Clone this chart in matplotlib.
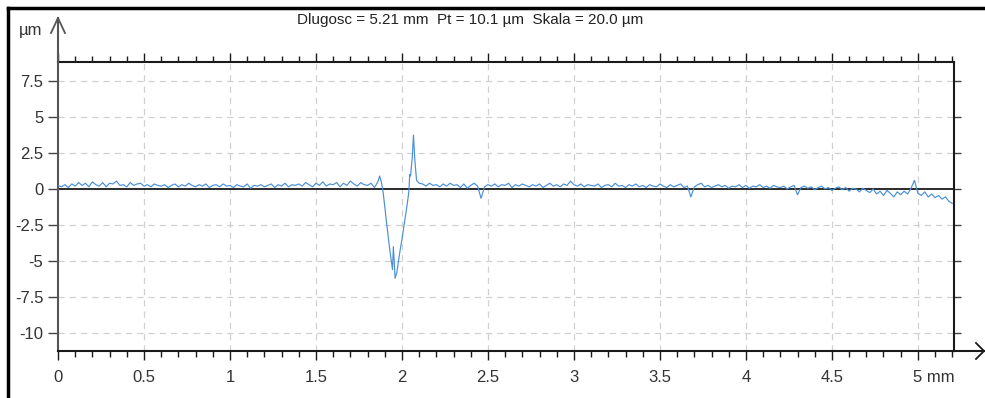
import numpy as np
import matplotlib
matplotlib.use("Agg")
import matplotlib.pyplot as plt
from matplotlib.lines import Line2D
from matplotlib.ticker import FixedLocator, MultipleLocator
import matplotlib.transforms as mtransforms

plt.rcParams['font.family'] = ['Liberation Sans Narrow', 'Liberation Sans', 'DejaVu Sans']
plt.rcParams['axes.unicode_minus'] = False

# ---------------- data (profile, micrometres vs mm) ----------------
step = 0.02
segA_start = 0.00
segA_y = [0.25, 0.15, 0.30, 0.10, 0.35, 0.20, 0.45, 0.25, 0.40, 0.15,
          0.50, 0.30, 0.20, 0.45, 0.15, 0.40, 0.35, 0.55, 0.25, 0.30,
          0.15, 0.45, 0.25, 0.35, 0.40, 0.20, 0.30, 0.15, 0.35, 0.25,
          0.20, 0.30, 0.10, 0.25, 0.35, 0.15, 0.30, 0.20, 0.40, 0.25,
          0.15, 0.30, 0.20, 0.35, 0.10, 0.25, 0.30, 0.15, 0.35, 0.20,
          0.25, 0.10, 0.30, 0.20, 0.15, 0.35, 0.05, 0.25, 0.20, 0.30,
          0.15, 0.25, 0.35, 0.10, 0.30, 0.20, 0.40, 0.15, 0.30, 0.25,
          0.35, 0.20, 0.45, 0.30, 0.15, 0.40, 0.25, 0.50, 0.20, 0.35,
          0.30, 0.45, 0.15, 0.40, 0.25, 0.55, 0.35, 0.20, 0.45, 0.30,
          0.25, 0.40, 0.10, 0.50]

feature_x = [1.87, 1.88, 1.89, 1.90, 1.91, 1.92, 1.93, 1.94, 1.945, 1.95,
             1.955, 1.96, 1.97, 1.98, 1.99, 2.00, 2.01, 2.02, 2.03, 2.04,
             2.045, 2.05, 2.06, 2.067, 2.075, 2.085, 2.10]
feature_y = [0.9, 0.5, -0.2, -1.2, -2.3, -3.3, -4.3, -5.2, -5.6, -4.0,
             -5.0, -6.2, -5.8, -5.0, -4.2, -3.5, -2.7, -1.9, -1.1, -0.2,
             1.0, 0.9, 2.2, 3.75, 2.0, 0.6, 0.4]

segB_start = 2.12
segB_y = [0.35, 0.20, 0.40, 0.25, 0.30, 0.15, 0.35, 0.20, 0.40, 0.25,
          0.30, 0.10, 0.35, 0.05, 0.25, 0.40, 0.20, -0.65, 0.15, 0.30,
          0.20, 0.35, 0.15, 0.30, 0.25, 0.40, 0.10, 0.30, 0.20, 0.35,
          0.25, 0.15, 0.30, 0.20, 0.35, 0.10, 0.25, 0.40, 0.20, 0.30,
          0.15, 0.35, 0.25, 0.55, 0.30, 0.20, 0.35, 0.15, 0.30, 0.25,
          0.20, 0.35, 0.10, 0.25, 0.30, 0.15, 0.40, 0.20, 0.25, 0.10,
          0.30, 0.20, 0.35, 0.15, 0.25, 0.10, 0.30, 0.20, 0.15, 0.35,
          0.20, 0.10, 0.30, 0.15, 0.25, 0.35, 0.10, 0.20, -0.55, 0.15,
          0.30, 0.40, 0.15, 0.25, 0.10, 0.20, 0.30, 0.15, 0.25, 0.05,
          0.20, 0.15, 0.30, 0.10, 0.25, 0.05, 0.20, 0.15, 0.30, 0.10,
          0.20, 0.05, 0.25, 0.15, 0.10, 0.20, 0.00, 0.15, 0.25, -0.40,
          0.10, 0.20, 0.05, 0.15, -0.05, 0.10, 0.20, 0.00, 0.10, -0.10,
          0.05, 0.15, -0.05, 0.10, -0.15, 0.05, 0.00, -0.20, 0.05, -0.10,
          -0.25, 0.00, -0.35, -0.15, -0.45, -0.10, -0.30, -0.55, -0.20, -0.40,
          -0.15, -0.35, 0.05, 0.60, -0.30, -0.45, -0.20, -0.55, -0.35, -0.60,
          -0.45, -0.70, -0.55, -0.85, -1.00]

x_major = [0, 0.5, 1, 1.5, 2, 2.5, 3, 3.5, 4, 4.5, 5]
x_labels = ["0", "0.5", "1", "1.5", "2", "2.5", "3", "3.5", "4", "4.5", "5 mm"]
y_major = [7.5, 5, 2.5, 0, -2.5, -5, -7.5, -10]
y_labels = ["7.5", "5", "2.5", "0", "-2.5", "-5", "-7.5", "-10"]
x_range = (0, 5.21)
y_range = (-11.25, 8.82)
title = "Dlugosc = 5.21 mm  Pt = 10.1 \u00b5m  Skala = 20.0 \u00b5m"
y_unit = "\u00b5m"

xA = segA_start + step * np.arange(len(segA_y))
xB = segB_start + step * np.arange(len(segB_y))
x = np.concatenate([xA, feature_x, xB])
y = np.concatenate([segA_y, feature_y, segB_y])

# ---------------- figure ----------------
W, H = 985, 398
fig = plt.figure(figsize=(W / 100, H / 100), dpi=100)
fig.patch.set_facecolor('white')

def fp(px, py):
    return px / W, 1 - py / H

L, R, T, B = 58, 954, 62, 351
ax = fig.add_axes([L / W, 1 - B / H, (R - L) / W, (B - T) / H])
ax.set_xlim(*x_range)
ax.set_ylim(*y_range)

# grid
grid_kw = dict(color='#d0d0d0', lw=0.9, dashes=(5, 4), zorder=0)
for gx in x_major[1:]:
    ax.axvline(gx, **grid_kw)
for gy in y_major:
    if gy != 0:
        ax.axhline(gy, **grid_kw)

ax.axhline(0, color='#1a1a1a', lw=1.3, zorder=2)
ax.plot(x, y, color='#4a8fd8', lw=0.85, zorder=3)

# spines
for s in ['top', 'right', 'bottom']:
    ax.spines[s].set_color('#1a1a1a')
    ax.spines[s].set_linewidth(1.5)
ax.spines['left'].set_color('#555555')
ax.spines['left'].set_linewidth(1.5)

# ticks
ax.xaxis.set_major_locator(FixedLocator(x_major))
ax.xaxis.set_minor_locator(MultipleLocator(0.1))
ax.set_xticklabels(x_labels)
ax.yaxis.set_major_locator(FixedLocator(y_major))
ax.set_yticklabels(y_labels)

ax.tick_params(axis='x', which='major', direction='out', length=6.5, width=1.0,
               color='#1a1a1a', top=True, bottom=True, labelsize=12, pad=7,
               labelcolor='#333333')
ax.tick_params(axis='x', which='minor', direction='out', length=4.5, width=1.0,
               color='#1a1a1a', top=True, bottom=True)
ax.tick_params(axis='y', which='major', direction='out', length=7.5, width=1.0,
               color='#444444', left=True, right=True, labelsize=12, pad=3,
               labelcolor='#333333')
for t in ax.yaxis.get_major_ticks():
    t.tick2line.set_markersize(5)
    t.tick2line.set_color('#1a1a1a')

# "5 mm" label: keep the 5 on its tick
lab = ax.get_xticklabels()[-1]
lab.set_horizontalalignment('left')
lab.set_transform(lab.get_transform() + mtransforms.ScaledTranslation(-5 / 100, 0, fig.dpi_scale_trans))

# outer frame
fig.add_artist(Line2D([fp(8, 0)[0], fp(8, 0)[0]], [fp(8, 8)[1], fp(8, 398)[1]], color='black', lw=2.5))
fig.add_artist(Line2D([fp(8, 8)[0], fp(985, 8)[0]], [fp(8, 8)[1], fp(8, 8)[1]], color='black', lw=2.5))

# axis arrows
ax_left_x = fp(L, 0)[0]
fig.add_artist(Line2D([ax_left_x, ax_left_x], [fp(0, T)[1], fp(0, 18)[1]], color='#555555', lw=1.5))
fig.add_artist(Line2D([fp(51, 0)[0], fp(58, 0)[0], fp(65, 0)[0]],
                      [fp(0, 33)[1], fp(0, 18)[1], fp(0, 33)[1]], color='#555555', lw=1.3))
fig.add_artist(Line2D([fp(R, 0)[0], fp(984, 0)[0]], [fp(0, B)[1], fp(0, B)[1]], color='#1a1a1a', lw=1.5))
fig.add_artist(Line2D([fp(976, 0)[0], fp(984, 0)[0], fp(976, 0)[0]],
                      [fp(0, 343)[1], fp(0, B)[1], fp(0, 359)[1]], color='#1a1a1a', lw=1.3))

# texts
fig.text(*fp(470, 20), title, ha='center', va='center', fontsize=11, color='#222222')
fig.text(*fp(31, 30), y_unit, ha='center', va='center', fontsize=12, color='#333333')

fig.savefig('out.png', dpi=100, facecolor='white')
